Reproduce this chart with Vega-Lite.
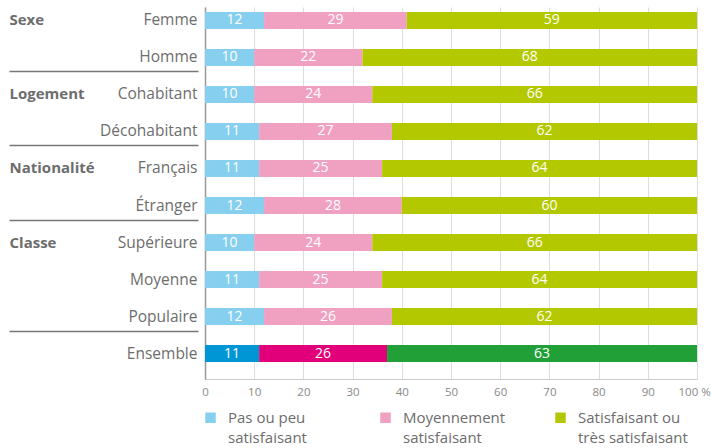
{
  "$schema": "https://vega.github.io/schema/vega-lite/v6.json",
  "width": 492,
  "height": 372,
  "autosize": {"type": "none"},
  "padding": {"left": 205, "top": 7, "right": 14, "bottom": 69},
  "config": {
    "view": {"stroke": null},
    "font": "Open Sans",
    "style": {"guide-label": {"lineHeight": 20}}
  },
  "data": {
    "values": [
      {"label": "Femme", "k": 1, "value": 12, "series": "Pas ou peu|satisfaisant"},
      {"label": "Femme", "k": 2, "value": 29, "series": "Moyennement|satisfaisant"},
      {"label": "Femme", "k": 3, "value": 59, "series": "Satisfaisant ou|très satisfaisant"},
      {"label": "Homme", "k": 1, "value": 10, "series": "Pas ou peu|satisfaisant"},
      {"label": "Homme", "k": 2, "value": 22, "series": "Moyennement|satisfaisant"},
      {"label": "Homme", "k": 3, "value": 68, "series": "Satisfaisant ou|très satisfaisant"},
      {"label": "Cohabitant", "k": 1, "value": 10, "series": "Pas ou peu|satisfaisant"},
      {"label": "Cohabitant", "k": 2, "value": 24, "series": "Moyennement|satisfaisant"},
      {"label": "Cohabitant", "k": 3, "value": 66, "series": "Satisfaisant ou|très satisfaisant"},
      {"label": "Décohabitant", "k": 1, "value": 11, "series": "Pas ou peu|satisfaisant"},
      {"label": "Décohabitant", "k": 2, "value": 27, "series": "Moyennement|satisfaisant"},
      {"label": "Décohabitant", "k": 3, "value": 62, "series": "Satisfaisant ou|très satisfaisant"},
      {"label": "Français", "k": 1, "value": 11, "series": "Pas ou peu|satisfaisant"},
      {"label": "Français", "k": 2, "value": 25, "series": "Moyennement|satisfaisant"},
      {"label": "Français", "k": 3, "value": 64, "series": "Satisfaisant ou|très satisfaisant"},
      {"label": "Étranger", "k": 1, "value": 12, "series": "Pas ou peu|satisfaisant"},
      {"label": "Étranger", "k": 2, "value": 28, "series": "Moyennement|satisfaisant"},
      {"label": "Étranger", "k": 3, "value": 60, "series": "Satisfaisant ou|très satisfaisant"},
      {"label": "Supérieure", "k": 1, "value": 10, "series": "Pas ou peu|satisfaisant"},
      {"label": "Supérieure", "k": 2, "value": 24, "series": "Moyennement|satisfaisant"},
      {"label": "Supérieure", "k": 3, "value": 66, "series": "Satisfaisant ou|très satisfaisant"},
      {"label": "Moyenne", "k": 1, "value": 11, "series": "Pas ou peu|satisfaisant"},
      {"label": "Moyenne", "k": 2, "value": 25, "series": "Moyennement|satisfaisant"},
      {"label": "Moyenne", "k": 3, "value": 64, "series": "Satisfaisant ou|très satisfaisant"},
      {"label": "Populaire", "k": 1, "value": 12, "series": "Pas ou peu|satisfaisant"},
      {"label": "Populaire", "k": 2, "value": 26, "series": "Moyennement|satisfaisant"},
      {"label": "Populaire", "k": 3, "value": 62, "series": "Satisfaisant ou|très satisfaisant"},
      {"label": "Ensemble", "k": 1, "value": 11, "series": "Ensemble: pas ou peu"},
      {"label": "Ensemble", "k": 2, "value": 26, "series": "Ensemble: moyennement"},
      {"label": "Ensemble", "k": 3, "value": 63, "series": "Ensemble: satisfaisant"}
    ]
  },
  "transform": [
    {"stack": "value", "groupby": ["label"], "sort": [{"field": "k"}], "as": ["x0", "x1"]},
    {"calculate": "(datum.x0 + datum.x1) / 2", "as": "xm"}
  ],
  "layer": [
    {
      "mark": {"type": "bar"},
      "encoding": {
        "y": {
          "field": "label", "type": "nominal",
          "sort": ["Femme", "Homme", "Cohabitant", "Décohabitant", "Français", "Étranger", "Supérieure", "Moyenne", "Populaire", "Ensemble"],
          "scale": {"paddingInner": 0.54, "paddingOuter": 0.297, "align": 0.227},
          "axis": {"orient": "left", "title": null, "ticks": false, "tickSize": 0, "labelPadding": 8, "labelFontSize": 15.5, "labelColor": "#6d6d6d", "domainColor": "#999999", "domainWidth": 1.5, "grid": false}
        },
        "x": {
          "field": "x0", "type": "quantitative",
          "scale": {"domain": [0, 100], "nice": false},
          "axis": {"title": null, "values": [0, 10, 20, 30, 40, 50, 60, 70, 80, 90, 100], "ticks": false, "labelPadding": 7, "labelFontSize": 11.5, "labelColor": "#888888", "domainColor": "#cccccc", "gridColor": "#dddddd", "labelFlush": false,
            "labelAlign": {"condition": {"test": "datum.value == 100", "value": "left"}, "value": "center"},
            "labelOffset": {"condition": {"test": "datum.value == 100", "value": -19}, "value": 0},
            "labelExpr": "datum.value == 100 ? '100 %' : datum.label"}
        },
        "x2": {"field": "x1"},
        "color": {
          "field": "series", "type": "nominal",
          "scale": {
            "domain": ["Pas ou peu|satisfaisant", "Moyennement|satisfaisant", "Satisfaisant ou|très satisfaisant", "Ensemble: pas ou peu", "Ensemble: moyennement", "Ensemble: satisfaisant"],
            "range": ["#86cfef", "#f0a1c2", "#b4c800", "#0096d6", "#e2007a", "#21a038"]
          },
          "legend": {
            "values": ["Pas ou peu|satisfaisant", "Moyennement|satisfaisant", "Satisfaisant ou|très satisfaisant"],
            "orient": "none", "legendX": -2, "legendY": 403,
            "direction": "horizontal", "columns": 3, "gridAlign": "all", "columnPadding": 40,
            "symbolType": "square", "symbolSize": 110, "symbolStrokeWidth": 0,
            "labelFontSize": 15, "labelColor": "#6d6d6d", "labelOffset": 10, "labelLimit": 300,
            "labelExpr": "split(datum.value, '|')", "title": null
          }
        }
      }
    },
    {
      "mark": {"type": "text", "color": "white", "fontSize": 14, "baseline": "middle"},
      "encoding": {
        "y": {"field": "label", "type": "nominal", "sort": ["Femme", "Homme", "Cohabitant", "Décohabitant", "Français", "Étranger", "Supérieure", "Moyenne", "Populaire", "Ensemble"], "axis": null},
        "x": {"field": "xm", "type": "quantitative"},
        "text": {"field": "value", "type": "quantitative"}
      }
    },
    {
      "mark": {"type": "text", "text": ""},
      "encoding": {
        "y": {
          "field": "label", "type": "nominal",
          "sort": ["Femme", "Homme", "Cohabitant", "Décohabitant", "Français", "Étranger", "Supérieure", "Moyenne", "Populaire", "Ensemble"],
          "axis": {"orient": "left", "offset": 196, "title": null, "labelAlign": "left", "labelPadding": 0, "ticks": false, "tickSize": 0, "domain": false, "grid": false, "labelFontWeight": "bold", "labelFontSize": 15, "labelColor": "#6d6d6d",
            "labelExpr": "datum.value == 'Femme' ? 'Sexe' : datum.value == 'Cohabitant' ? 'Logement' : datum.value == 'Français' ? 'Nationalité' : datum.value == 'Supérieure' ? 'Classe' : ''"}
        }
      }
    },
    {
      "mark": {"type": "text", "text": ""},
      "encoding": {
        "y": {
          "field": "label", "type": "nominal",
          "sort": ["Femme", "Homme", "Cohabitant", "Décohabitant", "Français", "Étranger", "Supérieure", "Moyenne", "Populaire", "Ensemble"],
          "axis": {"orient": "left", "offset": 7, "title": null, "values": ["Cohabitant", "Français", "Supérieure", "Ensemble"], "labels": false, "domain": false, "grid": false, "ticks": true, "tickSize": 189, "tickColor": "#777777", "tickWidth": 1.3, "tickOffset": -23}
        }
      }
    }
  ],
  "resolve": {"axis": {"y": "independent"}}
}
